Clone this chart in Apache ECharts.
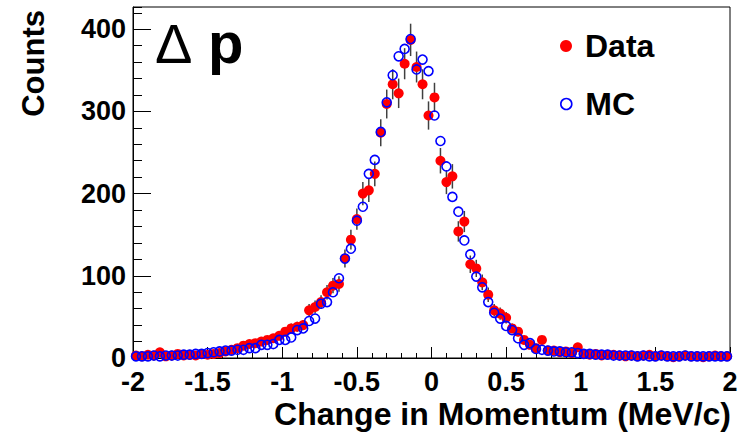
<!DOCTYPE html>
<html>
<head>
<meta charset="utf-8">
<script src="https://cdn.jsdelivr.net/npm/echarts@6/dist/echarts.min.js"></script>
<style>
html,body{margin:0;padding:0;background:#fff;}
#chart{width:753px;height:436px;}
</style>
</head>
<body>
<div id="chart"></div>
<script>
// Bin centres (bin width 0.04 from -2 to 2)
const binCenters = [
-1.98,-1.94,-1.90,-1.86,-1.82,-1.78,-1.74,-1.70,-1.66,-1.62,
-1.58,-1.54,-1.50,-1.46,-1.42,-1.38,-1.34,-1.30,-1.26,-1.22,
-1.18,-1.14,-1.10,-1.06,-1.02,-0.98,-0.94,-0.90,-0.86,-0.82,
-0.78,-0.74,-0.70,-0.66,-0.62,-0.58,-0.54,-0.50,-0.46,-0.42,
-0.38,-0.34,-0.30,-0.26,-0.22,-0.18,-0.14,-0.10,-0.06,-0.02,
0.02,0.06,0.10,0.14,0.18,0.22,0.26,0.30,0.34,0.38,
0.42,0.46,0.50,0.54,0.58,0.62,0.66,0.70,0.74,0.78,
0.82,0.86,0.90,0.94,0.98,1.02,1.06,1.10,1.14,1.18,
1.22,1.26,1.30,1.34,1.38,1.42,1.46,1.50,1.54,1.58,
1.62,1.66,1.70,1.74,1.78,1.82,1.86,1.90,1.94,1.98
];
const dataCounts = [
3,2,4,3,7,2,3,5,3,4,
3,5,4,5,6,8,10,12,15,17,
18,20,22,24,27,32,36,38,40,58,
62,68,80,88,90,121,144,169,200,204,
224,274,309,333,322,358,387,354,333,295,
317,240,214,221,154,166,114,109,92,77,
58,54,49,36,32,22,16,12,22,9,
9,7,8,6,13,5,4,5,3,4,
4,3,2,3,2,3,4,2,3,2,
1,2,3,2,2,1,2,3,2,2
];
const mcCounts = [
2,2,2,3,2,3,3,3,4,4,
5,5,6,7,8,9,9,10,10,12,
12,16,16,17,22,22,25,34,36,45,
48,66,68,80,97,121,133,167,184,224,
241,275,311,344,367,376,388,351,363,349,
295,264,233,196,178,143,126,99,86,68,
55,48,39,34,24,16,18,11,10,9,
8,8,7,7,6,5,5,4,4,4,
3,3,3,3,2,3,2,2,3,2,
2,2,3,2,2,2,2,2,2,2
];
const xTickLabels = ['-2','-1.5','-1','-0.5','0','0.5','1','1.5','2'];
const yTickLabels = ['0','100','200','300','400'];
const seriesNames = ['Data','MC'];

const FONT = '"Liberation Sans", Arial, Helvetica, sans-serif';
const chart = echarts.init(document.getElementById('chart'), null, {renderer:'svg'});

const dataPts = binCenters.map((x,i)=>[x, dataCounts[i]]);
const mcPts = binCenters.map((x,i)=>[x, mcCounts[i]]);

const option = {
  animation:false,
  backgroundColor:'#fff',
  grid:{left:133, right:23, top:7, bottom:78, show:true, borderColor:'#000', borderWidth:1, backgroundColor:'transparent'},
  xAxis:{
    type:'value', min:-2, max:2, interval:0.5,
    axisLine:{show:true, onZero:false, lineStyle:{color:'#000', width:1}},
    axisTick:{show:true, inside:true, length:11, lineStyle:{color:'#000', width:1}},
    minorTick:{show:true, splitNumber:5, length:5, lineStyle:{color:'#000', width:1}},
    splitLine:{show:false},
    axisLabel:{color:'#000', fontSize:27, fontWeight:'bold', fontFamily:FONT, margin:10,
      formatter:(v)=>{const i=Math.round((v+2)/0.5); return xTickLabels[i]!==undefined && Math.abs(v-(-2+0.5*i))<1e-6 ? xTickLabels[i] : '';}}
  },
  yAxis:[{
    type:'value', min:0, max:427, interval:100,
    axisLine:{show:true, onZero:false, lineStyle:{color:'#000', width:1}},
    axisTick:{show:true, inside:true, length:18, lineStyle:{color:'#000', width:1}},
    splitLine:{show:false},
    axisLabel:{color:'#000', fontSize:27, fontWeight:'bold', fontFamily:FONT, margin:7, showMaxLabel:false,
      formatter:(v)=>{const i=Math.round(v/100); return (Math.abs(v-100*i)<1e-6 && yTickLabels[i]!==undefined) ? yTickLabels[i] : '';}}
  },{
    type:'value', min:0, max:427, interval:20, position:'left',
    axisLine:{show:false, onZero:false},
    axisTick:{show:true, inside:true, length:9, lineStyle:{color:'#000', width:1}},
    splitLine:{show:false},
    axisLabel:{show:false}
  }],
  legend:[{
    data:[{name:'Data', icon:'circle', itemStyle:{color:'#ff0000'}}],
    orient:'vertical', left:555, top:25, itemWidth:28, itemHeight:12,
    textStyle:{color:'#000', fontSize:32, fontWeight:'bold', fontFamily:FONT},
    selectedMode:false
  },{
    data:[{name:'MC', icon:'circle', itemStyle:{color:'rgba(0,0,0,0)', borderColor:'#0000ff', borderWidth:1.6}}],
    orient:'vertical', left:555, top:83, itemWidth:28, itemHeight:11,
    textStyle:{color:'#000', fontSize:32, fontWeight:'bold', fontFamily:FONT},
    selectedMode:false
  }],
  graphic:[
    {type:'text', x:33, y:10, rotation:Math.PI/2,
      style:{text:'Counts', fill:'#000', font:'bold 31px '+FONT, align:'right', verticalAlign:'middle'}},
    {type:'text', x:731, y:414,
      style:{text:'Change in Momentum (MeV/c)', fill:'#000', font:'bold 32px '+FONT, align:'right', verticalAlign:'middle'}},
    {type:'text', x:155, y:43,
      style:{text:'Δ', fill:'#000', font:'normal 56px '+FONT, align:'left', verticalAlign:'middle'}},
    {type:'text', x:208, y:42,
      style:{text:'p', fill:'#000', font:'bold 58px '+FONT, align:'left', verticalAlign:'middle'}}
  ],
  series:[
    {
      name:'DataErr', type:'custom', z:2, silent:true,
      renderItem:(params, api)=>{
        const x=api.value(0), y=api.value(1), e=Math.sqrt(y);
        const p1=api.coord([x, Math.max(0,y-e)]), p2=api.coord([x, y+e]);
        return {type:'line', shape:{x1:p1[0], y1:p1[1], x2:p2[0], y2:p2[1]},
          style:{stroke:'#404040', lineWidth:1.5}};
      },
      data:dataPts
    },
    {
      name:seriesNames[0], type:'scatter', z:3, symbol:'circle', symbolSize:10,
      itemStyle:{color:'#ff0000', opacity:1}, data:dataPts, clip:false
    },
    {
      name:seriesNames[1], type:'scatter', z:4, symbol:'circle', symbolSize:9,
      itemStyle:{color:'rgba(0,0,0,0)', borderColor:'#0000ff', borderWidth:1.6, opacity:1}, data:mcPts, clip:false
    }
  ]
};
chart.setOption(option);
</script>
</body>
</html>
